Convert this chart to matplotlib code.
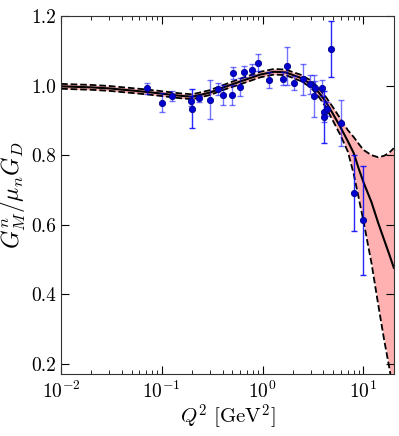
import numpy as np
import matplotlib
matplotlib.use('Agg')
import matplotlib.pyplot as plt

plt.rcParams['font.family'] = 'serif'
plt.rcParams['font.serif'] = ['cmr10']
plt.rcParams['mathtext.fontset'] = 'cm'
plt.rcParams['axes.formatter.use_mathtext'] = True
plt.rcParams['axes.unicode_minus'] = False

# Fit curve (central value and error band)
fit_q = [0.01, 0.02, 0.03, 0.05, 0.07, 0.1, 0.15, 0.2, 0.3, 0.4, 0.6, 0.95, 1.3,
         1.7, 2.4, 3.0, 3.5, 4.2, 5.0, 5.9, 7.0, 8.0, 9.0, 10.0, 12.0, 14.0,
         16.0, 18.0, 20.0]
fit_mid = [0.998, 0.995, 0.992, 0.986, 0.982, 0.977, 0.971, 0.968, 0.980, 0.994,
           1.012, 1.032, 1.040, 1.038, 1.022, 1.005, 0.985, 0.955, 0.918, 0.881,
           0.840, 0.806, 0.760, 0.722, 0.665, 0.605, 0.557, 0.515, 0.476]
fit_hi = [1.005, 1.002, 0.999, 0.993, 0.989, 0.984, 0.978, 0.975, 0.987, 1.001,
          1.020, 1.040, 1.048, 1.046, 1.031, 1.015, 0.997, 0.969, 0.937, 0.905,
          0.872, 0.852, 0.832, 0.815, 0.800, 0.794, 0.798, 0.807, 0.820]
fit_lo = [0.991, 0.988, 0.985, 0.979, 0.975, 0.970, 0.964, 0.961, 0.973, 0.987,
          1.004, 1.024, 1.032, 1.030, 1.013, 0.995, 0.973, 0.940, 0.898, 0.858,
          0.810, 0.746, 0.675, 0.610, 0.490, 0.370, 0.270, 0.190, 0.110]

# Data, set A (lighter error bars)
qa = [0.071, 0.100, 0.126, 0.194, 0.236, 0.30, 0.36, 0.40, 0.50, 0.51, 0.60,
      0.65, 0.78, 0.90, 1.15, 1.59, 1.75, 2.05, 2.51, 2.97, 3.3, 3.25, 3.85,
      4.03, 4.35, 5.95]
ga = [0.993, 0.951, 0.970, 0.955, 0.964, 0.960, 0.991, 0.972, 0.972, 1.036,
      0.997, 1.040, 1.046, 1.066, 1.016, 1.020, 1.056, 1.008, 1.018, 1.004,
      0.992, 0.970, 0.993, 0.925, 0.933, 0.893]
ea = [0.016, 0.027, 0.015, 0.015, 0.010, 0.056, 0.018, 0.029, 0.029, 0.017,
      0.026, 0.016, 0.016, 0.024, 0.022, 0.019, 0.055, 0.021, 0.044, 0.027,
      0.020, 0.060, 0.024, 0.030, 0.020, 0.066]

# Data, set B (darker error bars)
qb = [0.20, 4.03, 4.72, 8.0, 10.0]
gb = [0.934, 0.910, 1.105, 0.691, 0.613]
eb = [0.057, 0.075, 0.080, 0.108, 0.157]

fig = plt.figure(figsize=(3.99, 4.36), dpi=100)
ax = fig.add_axes([0.153, 0.142, 0.834, 0.821])

ax.fill_between(fit_q, fit_lo, fit_hi, color='#ffb0b0', lw=0, zorder=1)
ax.plot(fit_q, fit_hi, 'k--', lw=1.3, zorder=2)
ax.plot(fit_q, fit_lo, 'k--', lw=1.3, zorder=2)
ax.plot(fit_q, fit_mid, 'k-', lw=1.5, zorder=2)

ax.errorbar(qa, ga, yerr=ea, fmt='none', ecolor='blue', alpha=0.55,
            elinewidth=1.0, capsize=2.5, zorder=3)
ax.errorbar(qb, gb, yerr=eb, fmt='none', ecolor='blue', alpha=0.85,
            elinewidth=1.0, capsize=2.5, zorder=3)
ax.plot(qa + qb, ga + gb, 'o', color='#0000d0', mec='#00008b', mew=0.6,
        ms=4.5, zorder=4)

ax.set_xscale('log')
ax.set_xlim(0.01, 20)
ax.set_ylim(0.17, 1.2)
ax.set_yticks([0.2, 0.4, 0.6, 0.8, 1.0, 1.2])
ax.set_yticklabels(['0.2', '0.4', '0.6', '0.8', '1.0', '1.2'])

ax.tick_params(which='both', direction='in', top=True, right=True, labelsize=14)
ax.tick_params(which='major', length=6)
ax.tick_params(which='minor', length=3)
ax.tick_params(axis='x', pad=5)
for s in ax.spines.values():
    s.set_color('#333333')

ax.set_xlabel(r'$Q^2\ [\mathrm{GeV}^2]$', fontsize=15, labelpad=0)
ax.set_ylabel(r'$G_M^n/\mu_n G_D$', fontsize=17, labelpad=2)

plt.savefig('out.png', dpi=100)
